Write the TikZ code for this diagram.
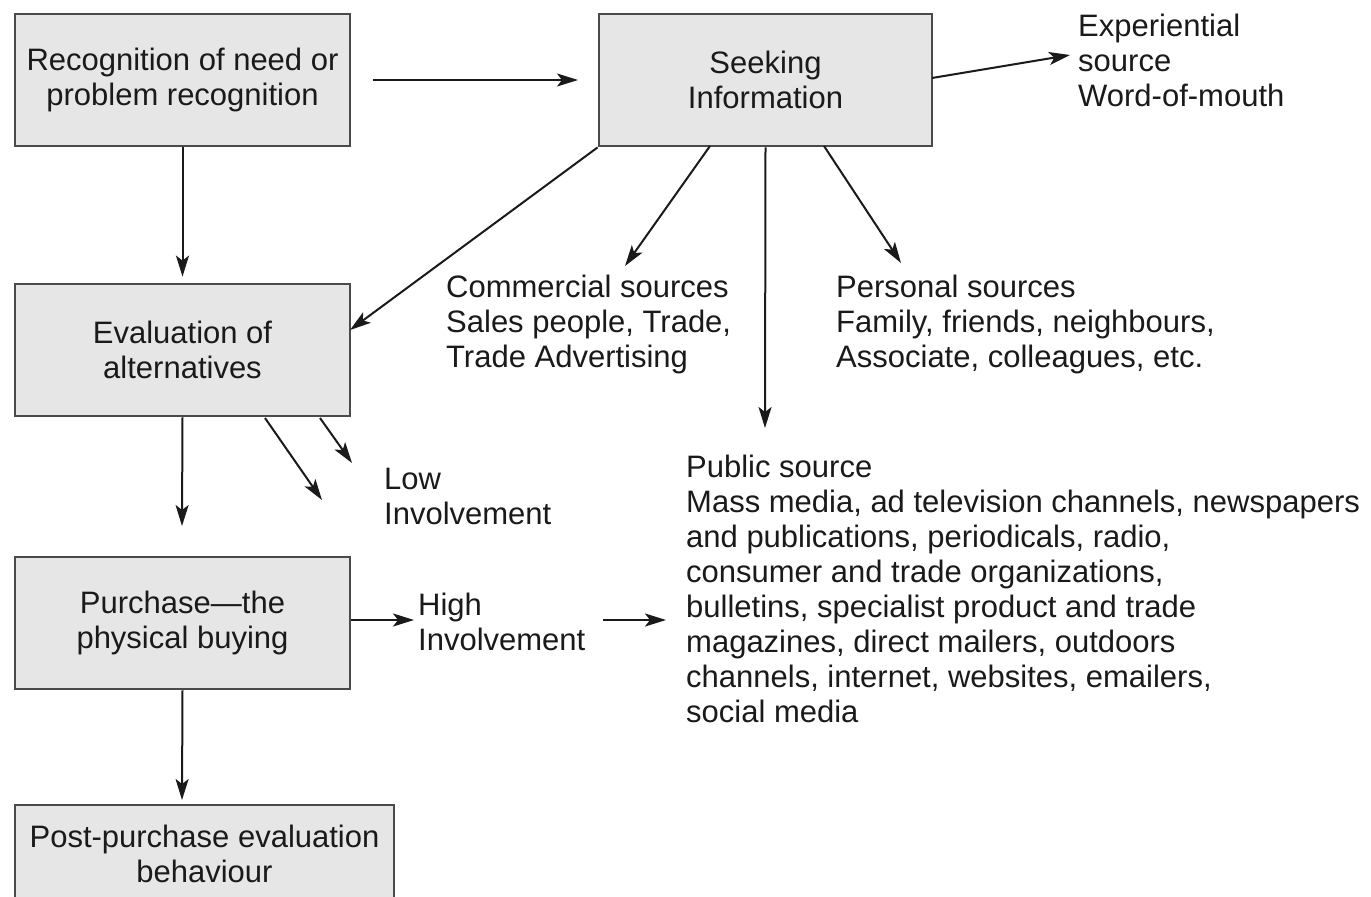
\documentclass[tikz,border=0pt]{standalone}
\usepackage{fontspec}
\setmainfont{Liberation Sans}
\usetikzlibrary{arrows.meta,calc}
\definecolor{boxfill}{HTML}{E6E6E6}
\definecolor{boxline}{HTML}{4A4A4A}
\definecolor{ink}{HTML}{1A1A1A}
\begin{document}
\begin{tikzpicture}[x=1pt,y=1pt,
  every node/.style={text=ink,font=\fontsize{31}{35}\selectfont},
  stagebox/.style={draw=boxline,line width=2.8pt,fill=boxfill,align=center,inner sep=0pt},
  plaintext/.style={align=left,anchor=north west,inner sep=0pt},
  arr/.style={draw=ink,line width=2pt,-{Stealth[length=21pt,width=13pt,inset=5pt]}}]
\clip (0,0) rectangle (1371,-897);
\fill[white] (0,0) rectangle (1371,-897);

\node[stagebox,minimum width=335pt,minimum height=132pt] (b1) at (182.5,-80) {Recognition of need or\\problem recognition};
\node[stagebox,minimum width=333pt,minimum height=132pt] (b2) at (765.5,-80) {Seeking\\Information};
\node[stagebox,minimum width=335pt,minimum height=132pt] (b3) at (182.5,-350) {Evaluation of\\alternatives};
\node[stagebox,minimum width=335pt,minimum height=132pt] (b4) at (182.5,-623) {Purchase---the\\physical buying};
\node[stagebox,minimum width=379pt,minimum height=98pt] (b5) at (204.5,-854) {Post-purchase evaluation\\behaviour};

\node[plaintext] (exp) at (1078,-14) {Experiential\\source\\Word-of-mouth};
\node[plaintext] (com) at (446,-275) {Commercial sources\\Sales people, Trade,\\Trade Advertising};
\node[plaintext] (per) at (836,-275) {Personal sources\\Family, friends, neighbours,\\Associate, colleagues, etc.};
\node[plaintext] (low) at (384,-468) {Low\\Involvement};
\node[plaintext] (pub) at (686,-455) {Public source\\Mass media, ad television channels, newspapers\\and publications, periodicals, radio,\\consumer and trade organizations,\\bulletins, specialist product and trade\\magazines, direct mailers, outdoors\\channels, internet, websites, emailers,\\social media};
\node[plaintext] (high) at (418,-593) {High\\Involvement};

\coordinate (s12) at (373,-80);
\coordinate (e12) at (578,-80);
\coordinate (sexp) at (932,-78);
\coordinate (eexp) at (1070,-55);
\coordinate (s2com) at (710,-146);
\coordinate (ecom) at (625,-266);
\coordinate (epub) at (765,-428);
\coordinate (s2per) at (824,-146);
\coordinate (eper) at (901,-263);
\coordinate (e3) at (350,-330);
\coordinate (e34) at (182,-526);
\coordinate (slowa) at (265,-418);
\coordinate (elowa) at (322,-500);
\coordinate (slowb) at (320,-418);
\coordinate (elowb) at (352,-463);
\coordinate (ehigh) at (414,-620);
\coordinate (shp) at (603,-620);
\coordinate (ehp) at (666,-620);
\coordinate (e45) at (182,-800);

\draw[arr] (s12) -- (e12);
\draw[arr] (sexp) -- (eexp);
\draw[arr] (b1.south) -- ($(b3.north)+(0,6)$);
\draw[arr] (b2.south west) -- (e3);
\draw[arr] (s2com) -- (ecom);
\draw[arr] (b2.south) -- (epub);
\draw[arr] (s2per) -- (eper);
\draw[arr] (b3.south) -- (e34);
\draw[arr] (slowa) -- (elowa);
\draw[arr] (slowb) -- (elowb);
\draw[arr] (b4.east |- ehigh) -- (ehigh);
\draw[arr] (shp) -- (ehp);
\draw[arr] (b4.south) -- (e45);
\end{tikzpicture}
\end{document}
